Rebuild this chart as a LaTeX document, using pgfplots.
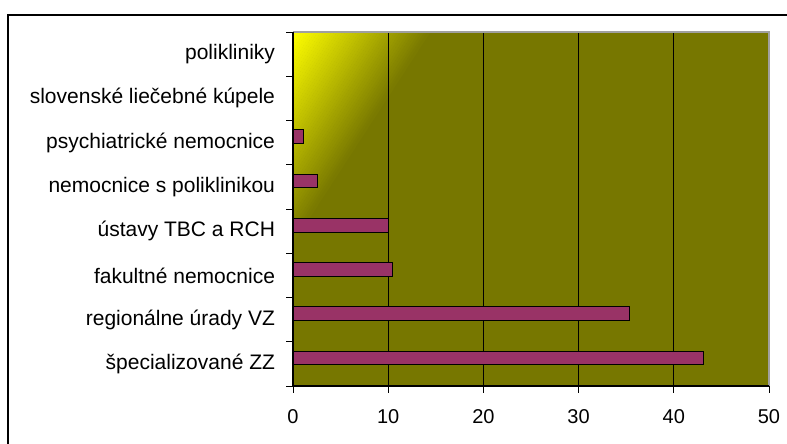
\documentclass[border=0pt]{standalone}
\usepackage{pgfplots}
\pgfplotsset{compat=1.18}
\usepackage{fontspec}
\setmainfont{Liberation Sans}
\definecolor{olv}{RGB}{119,119,0}
\definecolor{barc}{RGB}{153,51,102}
\definecolor{ylw}{RGB}{255,255,0}
\definecolor{frm}{RGB}{160,160,160}
\begin{document}
\begin{tikzpicture}
\path[use as bounding box] (-293bp,-58bp) rectangle (494bp,386bp);
\begin{scope}
\clip (0,0) rectangle (476bp,354bp);
\fill[olv] (0,0) rectangle (476bp,354bp);
\begin{scope}[shift={(0,354bp)}, rotate=-33]
\foreach \i in {0,...,49}{
  \pgfmathtruncatemacro{\p}{100-2*\i}
  \fill[ylw!\p!olv] (2.3*\i bp,-600bp) rectangle (2.3*\i bp+2.7bp,600bp);
}
\end{scope}
\end{scope}
\begin{axis}[
  at={(0,0)}, anchor=south west,
  scale only axis, width=476bp, height=354bp,
  xmin=0, xmax=50, ymin=-0.5, ymax=7.5,
  xtick={0,10,20,30,40,50},
  ytick={-0.5,0.5,1.5,2.5,3.5,4.5,5.5,6.5,7.5},
  y tick label as interval,
  yticklabels={špecializované ZZ, regionálne úrady VZ, fakultné nemocnice, ústavy TBC a RCH, nemocnice s poliklinikou, psychiatrické nemocnice\hspace{0.35em}, slovenské liečebné kúpele, polikliniky},
  tick align=outside,
  tick pos=left,
  major tick length=6.5bp,
  tick style={black, line width=0.8bp},
  xmajorgrids, major grid style={black, line width=1bp},
  axis line style={draw=none},
  xbar, bar width=0.31, bar shift=0.135,
  xticklabel style={font=\fontsize{20bp}{24bp}\selectfont, yshift=-14bp},
  yticklabel style={font=\fontsize{21bp}{25bp}\selectfont, xshift=-8bp},
  /pgf/number format/assume math mode=true,
  clip=false,
]
\addplot[fill=barc, draw=black, line width=1bp] coordinates {
  (43.1,0) (35.3,1) (10.4,2) (10.0,3) (2.6,4) (1.1,5) (0,6) (0,7)
};
\draw[frm, line width=1.2bp] (rel axis cs:0,1) -- (rel axis cs:1,1) -- (rel axis cs:1,0);
\draw[black, line width=1.2bp] (rel axis cs:0,1) -- (rel axis cs:0,0) -- (rel axis cs:1,0);
\end{axis}
\draw[black, line width=1.2bp] (-285bp,-70bp) rectangle (510bp,371bp);
\end{tikzpicture}
\end{document}
